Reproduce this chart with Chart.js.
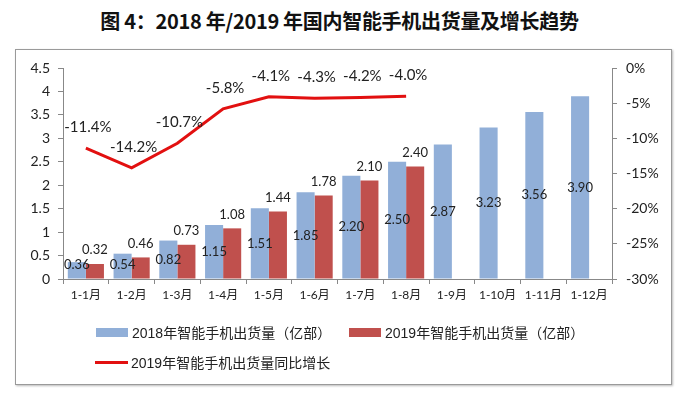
<!DOCTYPE html>
<html>
<head>
<meta charset="utf-8">
<script src="https://cdn.jsdelivr.net/npm/chart.js@4/dist/chart.umd.min.js"></script>
<style>
    body { margin: 0; background: #fff; width: 679px; height: 398px; overflow: hidden; position: relative; }
    #title { position: absolute; left: 0; top: 6px; width: 679px; text-align: center;
        font: bold 20px "Noto Sans CJK SC", sans-serif; color: #111; letter-spacing: -0.3px; }
    #frame { position: absolute; left: 15px; top: 49px; width: 655px; height: 334px;
        border: 1px solid #9a9a9a; box-shadow: 1px 1px 2px #bbb; }
    #chart { position: absolute; left: 0; top: 0; }
    .legend { position: absolute; font: 14px "Liberation Sans", "Noto Sans CJK SC", sans-serif; color: #222;
        display: flex; align-items: center; }
    .swatch { display: inline-block; width: 32px; height: 9px; margin-right: 4px; }
    .lineSwatch { display: inline-block; width: 33px; height: 3px; margin-right: 3px; }
</style>
</head>
<body>
<div id="title">图 4：2018 年/2019 年国内智能手机出货量及增长趋势</div>
<div id="frame"></div>
<canvas id="chart" width="679" height="398"></canvas>
<div id="legend1" class="legend" style="left:96px; top:322px;"></div>
<div id="legend2" class="legend" style="left:349px; top:322px;"></div>
<div id="legend3" class="legend" style="left:95px; top:352px;"></div>
<script>
// Chart data
const months = ['1-1月', '1-2月', '1-3月', '1-4月', '1-5月', '1-6月', '1-7月', '1-8月', '1-9月', '1-10月', '1-11月', '1-12月'];
const shipments2018 = [0.36, 0.54, 0.82, 1.15, 1.51, 1.85, 2.20, 2.50, 2.87, 3.23, 3.56, 3.90];
const shipments2019 = [0.32, 0.46, 0.73, 1.08, 1.44, 1.78, 2.10, 2.40, null, null, null, null];
const growth2019 = [-11.4, -14.2, -10.7, -5.8, -4.1, -4.3, -4.2, -4.0, null, null, null, null];
const leftTicks = [0, 0.5, 1, 1.5, 2, 2.5, 3, 3.5, 4, 4.5];
const rightTicks = [0, -5, -10, -15, -20, -25, -30];

const label2018 = '2018年智能手机出货量（亿部）';
const label2019 = '2019年智能手机出货量（亿部）';
const labelGrowth = '2019年智能手机出货量同比增长';

const blue = 'rgb(145,175,216)';
const red = 'rgb(192,80,77)';
const lineRed = 'rgb(226,16,16)';
const tickFont = { family: 'Lato, "Noto Sans CJK SC", sans-serif', size: 14 };

// Draw value labels on bars and line points
const valueLabels = {
    id: 'valueLabels',
    afterDatasetsDraw(chart) {
        const ctx = chart.ctx;
        ctx.save();
        ctx.fillStyle = '#222';
        ctx.textAlign = 'center';
        ctx.textBaseline = 'middle';
        chart.data.datasets.forEach((ds, i) => {
            const meta = chart.getDatasetMeta(i);
            meta.data.forEach((el, j) => {
                const v = ds.data[j];
                if (v === null) return;
                if (ds.type === 'line') {
                    ctx.font = '15px Lato, sans-serif';
                    ctx.fillText(v.toFixed(1) + '%', el.x + 2, el.y - 21);
                } else if (i === 0) {
                    ctx.font = '13px Lato, sans-serif';
                    const y = Math.min((el.y + el.base) / 2, el.base - 14);
                    ctx.fillText(v.toFixed(2), el.x, y);
                } else {
                    ctx.font = '13px Lato, sans-serif';
                    ctx.fillText(v.toFixed(2), el.x, el.y - 14);
                }
            });
        });
        ctx.restore();
    }
};

const chart = new Chart(document.getElementById('chart').getContext('2d'), {
    data: {
        labels: months,
        datasets: [
            { type: 'bar', label: label2018, data: shipments2018, backgroundColor: blue, yAxisID: 'y', order: 2 },
            { type: 'bar', label: label2019, data: shipments2019, backgroundColor: red, yAxisID: 'y', order: 2 },
            { type: 'line', label: labelGrowth, data: growth2019, borderColor: lineRed, borderWidth: 3,
              pointRadius: 0, tension: 0, yAxisID: 'y1', order: 1 }
        ]
    },
    options: {
        responsive: false,
        animation: false,
        layout: { padding: { left: 13, right: 12, top: 68, bottom: 89 } },
        datasets: { bar: { categoryPercentage: 0.79, barPercentage: 1 } },
        plugins: { legend: { display: false }, tooltip: { enabled: false } },
        scales: {
            x: {
                grid: { drawOnChartArea: false, color: '#888', tickLength: 5 },
                border: { color: '#888' },
                ticks: { color: '#222', font: { family: tickFont.family, size: 12 }, padding: 4, maxRotation: 0 },
                afterFit(s) { s.height = 30; }
            },
            y: {
                position: 'left',
                min: 0, max: 4.5,
                grid: { drawOnChartArea: false, color: '#888', tickLength: 5 },
                border: { color: '#888' },
                ticks: { color: '#222', font: tickFont, padding: 8, stepSize: 0.5,
                    callback: (v) => leftTicks.includes(v) ? String(v) : '' },
                afterFit(s) { s.width = 50; }
            },
            y1: {
                position: 'right',
                min: -30, max: 0,
                grid: { drawOnChartArea: false, color: '#888', tickLength: 5 },
                border: { color: '#888' },
                ticks: { color: '#222', font: tickFont, padding: 9, stepSize: 5,
                    callback: (v) => rightTicks.includes(v) ? v + '%' : '' },
                afterFit(s) { s.width = 55; }
            }
        }
    },
    plugins: [valueLabels]
});

// Build the legend from the datasets
function legendItem(id, ds) {
    const box = document.getElementById(id);
    const mark = document.createElement('span');
    if (ds.type === 'line') {
        mark.className = 'lineSwatch';
        mark.style.background = ds.borderColor;
    } else {
        mark.className = 'swatch';
        mark.style.background = ds.backgroundColor;
    }
    box.appendChild(mark);
    box.appendChild(document.createTextNode(ds.label));
}
legendItem('legend1', chart.data.datasets[0]);
legendItem('legend2', chart.data.datasets[1]);
legendItem('legend3', chart.data.datasets[2]);
</script>
</body>
</html>
